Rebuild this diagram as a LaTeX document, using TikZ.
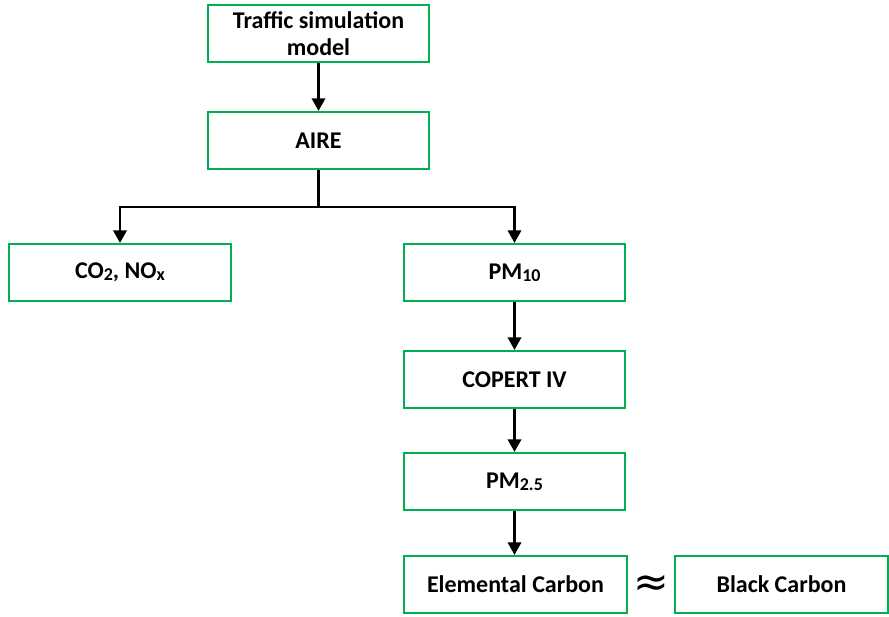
\documentclass[tikz,border=0pt]{standalone}
\usepackage{fontspec}
\setmainfont{Carlito}
\newfontfamily\symfont{DejaVu Sans}
\usetikzlibrary{arrows.meta,positioning}
\definecolor{boxgreen}{RGB}{0,176,80}
\newcommand\lowsub[1]{\raisebox{-0.15ex}{\fontsize{13.5}{14}\selectfont #1}}

\begin{document}
\begin{tikzpicture}[x=0.75pt,y=-0.75pt,font=\fontsize{18}{20}\selectfont\bfseries,
  box/.style={draw=boxgreen,line width=1.6pt,align=center,inner sep=0pt,
    minimum width=166pt,minimum height=42.75pt,fill=white},
  flow/.style={-{Triangle[length=9.5pt,width=10pt]},line width=2.1pt,draw=black},
  link/.style={line width=2.1pt,draw=black}]
\useasboundingbox (0,0) rectangle (889,617);
\node[box] (traffic) at (318.5,33.5) {Traffic simulation\\model};
\node[box] (aire) at (318.5,140.5) {AIRE};
\node[box] (co2) at (120,272.5) {CO\lowsub{2}, NO\lowsub{x}};
\node[box] (pm10) at (514.5,272.5) {PM\lowsub{10}};
\node[box] (copert) at (514.5,379.5) {COPERT IV};
\node[box] (pm25) at (514.5,481.5) {PM\lowsub{2.5}};
\node[box,minimum width=167pt] (ec) at (515.5,584.5) {Elemental Carbon};
\node[box,minimum width=160pt] (bc) at (781.5,584.5) {Black Carbon};
\node[inner sep=0pt] (approx) at (651,586) {\symfont\mdseries\fontsize{32}{32}\selectfont ≈};
\coordinate (split) at (318.5,207);
\draw[flow] (traffic) -- (aire);
\draw[link] (aire) -- (split);
\draw[flow] (split) -| (co2);
\draw[flow] (split) -| (pm10);
\draw[flow] (pm10) -- (copert);
\draw[flow] (copert) -- (pm25);
\draw[flow] (pm25) -- (pm25 |- ec.north);
\end{tikzpicture}
\end{document}
